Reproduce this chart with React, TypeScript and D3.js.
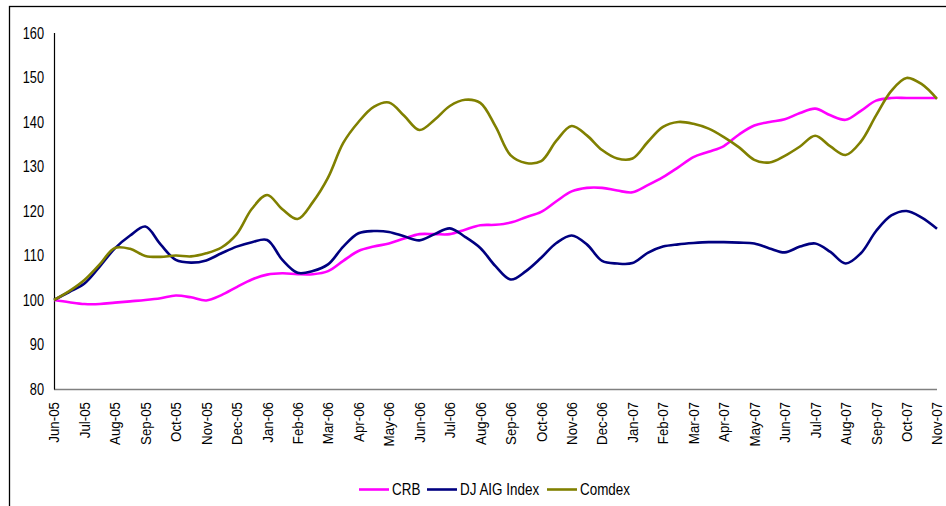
import * as d3 from 'd3'

const months = [
  'Jun-05', 'Jul-05', 'Aug-05', 'Sep-05', 'Oct-05', 'Nov-05', 'Dec-05', 'Jan-06', 'Feb-06', 'Mar-06',
  'Apr-06', 'May-06', 'Jun-06', 'Jul-06', 'Aug-06', 'Sep-06', 'Oct-06', 'Nov-06', 'Dec-06', 'Jan-07',
  'Feb-07', 'Mar-07', 'Apr-07', 'May-07', 'Jun-07', 'Jul-07', 'Aug-07', 'Sep-07', 'Oct-07', 'Nov-07',
]

// twice-monthly readings (mid-month between each label)
const crb = [
  100, 99.5, 99.1, 99.1, 99.4, 99.7, 100, 100.4, 101, 100.6,
  99.9, 101.1, 102.9, 104.6, 105.7, 106, 105.8, 105.8, 106.5, 108.8,
  111, 112, 112.7, 113.8, 114.8, 114.8, 114.8, 115.8, 116.8, 116.9,
  117.4, 118.6, 119.8, 122.2, 124.4, 125.2, 125.2, 124.6, 124.2, 125.8,
  127.6, 129.8, 132.1, 133.3, 134.6, 137.2, 139.2, 140, 140.6, 142,
  143, 141.5, 140.5, 142.5, 144.8, 145.4, 145.4, 145.4, 145.4,
]
const djaig = [
  100, 101.8, 103.7, 107.5, 111.6, 114.5, 116.5, 112.5, 109, 108.4,
  108.9, 110.5, 112, 113, 113.5, 109, 106.1, 106.5, 108, 112,
  115, 115.5, 115.3, 114.3, 113.4, 114.8, 116.1, 114.2, 111.7, 107.6,
  104.6, 106.5, 109.5, 112.8, 114.5, 112.5, 108.8, 108.2, 108.3, 110.6,
  112, 112.5, 112.8, 113, 113, 112.9, 112.7, 111.6, 110.7, 112,
  112.7, 110.8, 108.2, 110.5, 115.5, 119, 120, 118.5, 116,
]
const comdex = [
  100, 102, 104.5, 108, 111.7, 111.5, 109.9, 109.7, 110, 109.8,
  110.5, 111.8, 114.8, 120.5, 123.6, 120.4, 118.2, 122, 127.5, 135.3,
  140, 143.4, 144.4, 141.4, 138.2, 140.5, 143.6, 145, 144.3, 139,
  132.5, 130.8, 131.2, 135.8, 139.1, 137, 133.7, 131.8, 131.8, 135.5,
  138.9, 140, 139.6, 138.5, 136.6, 134.3, 131.5, 130.9, 132.4, 134.5,
  136.9, 134.5, 132.6, 135.6, 141.5, 147, 149.9, 148.5, 145.2,
]
const yTicks = [80, 90, 100, 110, 120, 130, 140, 150, 160]

const series = [
  { name: 'CRB', values: crb, color: '#ff00ff' },
  { name: 'DJ AIG Index', values: djaig, color: '#000080' },
  { name: 'Comdex', values: comdex, color: '#808000' },
]

const W = 946
const H = 506
const font = "'Liberation Sans', Arial, sans-serif"

export default function App() {
  const x = d3.scaleLinear().domain([0, months.length - 1]).range([54, 937])
  const y = d3.scaleLinear().domain([80, 160]).range([389, 33])
  const line = d3
    .line<number>()
    .x((_, i) => x(i / 2))
    .y((d) => y(d))
    .curve(d3.curveCatmullRom.alpha(0.5))

  const legendItems = [
    { x: 359, w: 30 },
    { x: 427, w: 30 },
    { x: 547, w: 30 },
  ]

  return (
    <svg
      width={W}
      height={H}
      style={{ position: 'absolute', left: 0, top: 0, background: '#fff' }}
      fontFamily={font}
    >
      <rect x={9.5} y={6.5} width={1000} height={1000} fill="#fff" stroke="#000" strokeWidth={1.3} />

      {/* y axis labels */}
      {yTicks.map((t) => (
        <text
          key={t}
          transform={`translate(44,${y(t)}) scale(0.8,1)`}
          textAnchor="end"
          dy="0.35em"
          fontSize={16}
          fill="#000"
        >
          {t}
        </text>
      ))}

      {/* x labels */}
      {months.map((m, i) => (
        <text
          key={m}
          transform={`translate(${x(i)},402) rotate(-90) scale(0.86,1)`}
          textAnchor="end"
          dy="0.35em"
          fontSize={15.5}
          fill="#000"
        >
          {m}
        </text>
      ))}

      <line x1={54} x2={937} y1={389.5} y2={389.5} stroke="#808080" strokeWidth={1.3} />
      <line x1={54.5} x2={54.5} y1={33} y2={389.5} stroke="#000" strokeWidth={1.2} />

      {series.map((s) => (
        <path key={s.name} d={line(s.values) || ''} fill="none" stroke={s.color} strokeWidth={2.6} strokeLinejoin="round" />
      ))}

      {/* legend */}
      {series.map((s, i) => (
        <g key={s.name}>
          <line x1={legendItems[i].x} x2={legendItems[i].x + legendItems[i].w} y1={489.5} y2={489.5} stroke={s.color} strokeWidth={2.6} />
          <text
            transform={`translate(${legendItems[i].x + legendItems[i].w + 3},489) scale(0.84,1)`}
            dy="0.35em"
            fontSize={16}
            fill="#000"
          >
            {s.name}
          </text>
        </g>
      ))}
    </svg>
  )
}
